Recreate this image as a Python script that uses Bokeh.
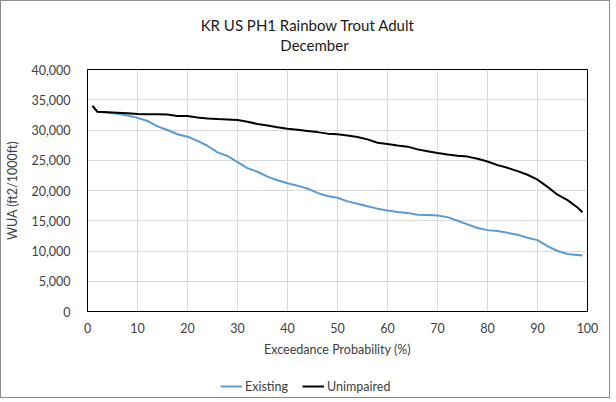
from bokeh.plotting import figure
from bokeh.layouts import column
from bokeh.models import Label, Legend, LegendItem, NumeralTickFormatter, FixedTicker, Range1d
from bokeh.embed import file_html
from bokeh.resources import INLINE

exceed = [1, 2, 4, 6, 8, 10, 12, 14, 16, 18, 20, 22, 24, 26, 28, 30, 32, 34, 36, 38, 40,
          42, 44, 46, 48, 50, 52, 54, 56, 58, 60, 62, 64, 66, 68, 70, 72, 74, 76, 78, 80,
          82, 84, 86, 88, 90, 92, 94, 96, 98, 99]

unimpaired = [34000, 33000, 32950, 32850, 32750, 32650, 32600, 32600, 32550, 32300, 32300,
              32050, 31900, 31800, 31750, 31650, 31350, 31000, 30750, 30450, 30200,
              30050, 29850, 29650, 29400, 29300, 29100, 28850, 28450, 27900, 27700,
              27450, 27250, 26800, 26500, 26200, 25950, 25750, 25600, 25250, 24800,
              24200, 23750, 23200, 22600, 21800, 20600, 19300, 18400, 17200, 16400]

existing = [34000, 33000, 32900, 32700, 32400, 32000, 31500, 30600, 30000, 29300, 28900,
            28200, 27400, 26300, 25700, 24700, 23700, 23100, 22300, 21700, 21200,
            20800, 20300, 19600, 19100, 18800, 18200, 17800, 17400, 17000, 16700,
            16450, 16300, 16000, 15950, 15850, 15600, 15000, 14400, 13800, 13450,
            13300, 13000, 12700, 12200, 11800, 10800, 10000, 9500, 9350, 9250]

x_ticks = [0, 10, 20, 30, 40, 50, 60, 70, 80, 90, 100]
y_ticks = [0, 5000, 10000, 15000, 20000, 25000, 30000, 35000, 40000]
series_names = ["Existing", "Unimpaired"]
series_values = [existing, unimpaired]
series_colors = ["#5b9bd5", "black"]
title_lines = ["KR US PH1 Rainbow Trout Adult", "December"]

FONT = "Lato"
TXT = "#404040"
W = 608

# title strip
TH = 56
p0 = figure(width=W, height=TH, output_backend="svg", toolbar_location=None,
            x_axis_type=None, y_axis_type=None, x_range=Range1d(0, W), y_range=Range1d(0, TH),
            min_border=0)
p0.outline_line_color = None
p0.grid.visible = False
p0.border_fill_color = "white"
for txt, (lx, ly) in zip(title_lines, [(268, TH - 23), (276, TH - 43)]):
    p0.add_layout(Label(x=lx, y=ly, text=txt, text_align="center", text_baseline="middle",
                        text_font=FONT, text_font_size="15px", text_color="#1a1a1a"))

# main chart
p = figure(width=W, height=303, output_backend="svg", toolbar_location=None,
           x_range=Range1d(0, 100), y_range=Range1d(0, 40000),
           min_border_left=86, min_border_right=22, min_border_top=12, min_border_bottom=49)
p.title.visible = False
p.outline_line_color = "black"
p.outline_line_width = 1
p.background_fill_color = "white"
p.border_fill_color = "white"

for ax in (p.xaxis[0], p.yaxis[0]):
    ax.axis_line_color = "black"
    ax.axis_line_width = 1
    ax.major_tick_line_color = None
    ax.minor_tick_line_color = None
    ax.major_label_text_font = FONT
    ax.major_label_text_font_size = "12.5px"
    ax.major_label_text_color = TXT
    ax.axis_label_text_font = FONT
    ax.axis_label_text_font_size = "12.5px"
    ax.axis_label_text_font_style = "normal"
    ax.axis_label_text_color = TXT

p.xaxis.ticker = FixedTicker(ticks=x_ticks)
p.yaxis.ticker = FixedTicker(ticks=y_ticks)
p.yaxis.formatter = NumeralTickFormatter(format="0,0")
p.xaxis.axis_label = "Exceedance Probability (%)"
p.yaxis.axis_label = "WUA (ft2/1000ft)"
p.xaxis.major_label_standoff = 5
p.yaxis.major_label_standoff = 11
p.xaxis.axis_label_standoff = 6
p.yaxis.axis_label_standoff = 8

p.xgrid.ticker = FixedTicker(ticks=x_ticks)
p.ygrid.ticker = FixedTicker(ticks=y_ticks)
p.grid.grid_line_color = "#d9d9d9"
p.grid.grid_line_width = 1

for vals, col in zip(series_values, series_colors):
    p.line(exceed, vals, line_color=col, line_width=2)

# legend strip below the chart (series drawn off-range, only their legend swatches show)
p2 = figure(width=W, height=37, output_backend="svg", toolbar_location=None,
            x_axis_type=None, y_axis_type=None, x_range=Range1d(-2, -1), y_range=Range1d(-2, -1),
            min_border=0)
p2.outline_line_color = None
p2.grid.visible = False
p2.border_fill_color = "white"
items = []
for name, vals, col in zip(series_names, series_values, series_colors):
    r = p2.line(exceed, vals, line_color=col, line_width=2)
    items.append(LegendItem(label=name, renderers=[r]))
legend = Legend(items=items, orientation="horizontal", location=(133, 3), margin=0,
                label_text_font=FONT, label_text_font_size="12.5px", label_text_color=TXT,
                glyph_width=22, glyph_height=16, label_height=16, label_standoff=3,
                spacing=14, padding=2, border_line_color=None, background_fill_alpha=0)
p2.add_layout(legend)

layout = column(p0, p, p2, spacing=0)
layout.styles = {"border": "1px solid #8c8c8c"}

open("out.html", "w").write(file_html(layout, INLINE))
